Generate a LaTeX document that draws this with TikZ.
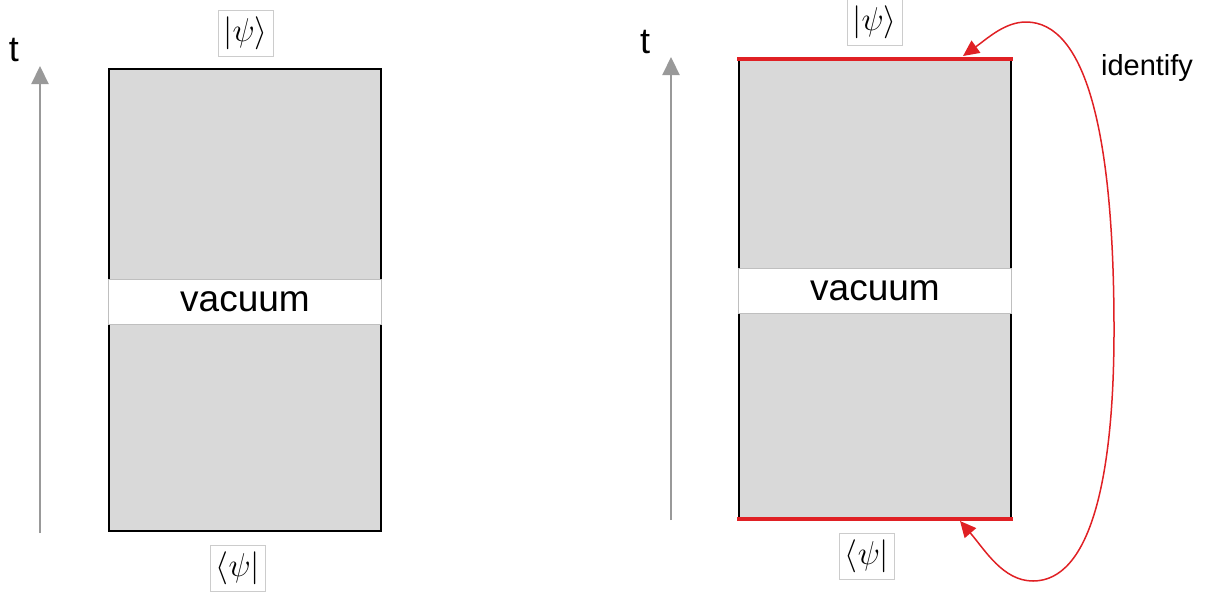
\RequirePackage{fix-cm}
\documentclass[tikz,border=0pt]{standalone}
\usepackage{fontspec}
\setsansfont{Liberation Sans}
\usetikzlibrary{arrows.meta}
\definecolor{slab}{RGB}{217,217,217}
\definecolor{axisgray}{RGB}{153,153,153}
\definecolor{idred}{RGB}{224,32,36}
\tikzset{
  slabbox/.style={draw=black, line width=1.4pt, fill=slab},
  band/.style={draw=black!25, line width=0.6pt, fill=white, minimum width=273pt,
    minimum height=45pt, inner sep=0pt, font=\sffamily\fontsize{37}{40}\selectfont},
  timeaxis/.style={draw=axisgray, line width=2.2pt, -{Triangle[length=18pt,width=17pt]}},
  tlabel/.style={font=\sffamily\fontsize{36}{40}\selectfont, inner sep=0pt},
  statebox/.style={draw=black!20, line width=0.6pt, fill=white, minimum width=55pt,
    minimum height=46pt, inner sep=0pt, font=\fontsize{33}{38}\selectfont},
  boundary/.style={draw=idred, line width=4pt},
  glue/.style={draw=idred, line width=1.5pt,
    {Triangle[length=16pt,width=15pt]}-{Triangle[length=16pt,width=15pt]}},
  note/.style={font=\sffamily\fontsize{29}{32}\selectfont, inner sep=0pt}
}
\begin{document}
\begin{tikzpicture}[x=1pt, y=-1pt]
\useasboundingbox (0,0) rectangle (1206,595);

% ---- left: plain slab ----
\draw[slabbox] (109,69) rectangle (381,531);
\node[band] (vacL) at (245,301.5) {vacuum};
\coordinate (tL0) at (40,533);
\coordinate (tL1) at (40,66);
\draw[timeaxis] (tL0) -- (tL1);
\node[tlabel] (tL) at (14,50) {t};
\node[statebox] (ketL) at (245.5,33) {$|\psi\rangle$};
\node[statebox] (braL) at (238,568) {$\langle\psi|$};

% ---- right: slab with identified ends ----
\draw[slabbox] (739,59) rectangle (1011,519);
\node[band] (vacR) at (875,291) {vacuum};
\coordinate (top0) at (737,59);
\coordinate (top1) at (1013,59);
\coordinate (bot0) at (737,519);
\coordinate (bot1) at (1013,519);
\draw[boundary] (top0) -- (top1);
\draw[boundary] (bot0) -- (bot1);
\coordinate (tR0) at (671,520);
\coordinate (tR1) at (671,57);
\draw[timeaxis] (tR0) -- (tR1);
\node[tlabel] (tR) at (645,42) {t};
\node[statebox] (ketR) at (874.5,22.5) {$|\psi\rangle$};
\node[statebox] (braR) at (867,556) {$\langle\psi|$};

% identification loop
\coordinate (gB) at (960,521);
\coordinate (gT) at (963,56);
\draw[glue] (gB) .. controls (985,550) and (1003,581) .. (1033,581)
  .. controls (1090,581) and (1114,480) .. (1114,330)
  .. controls (1114,130) and (1085,22) .. (1026,22)
  .. controls (1005,22) and (988,38) .. (gT);
\node[note] (id) at (1147,68) {identify};
\end{tikzpicture}
\end{document}
